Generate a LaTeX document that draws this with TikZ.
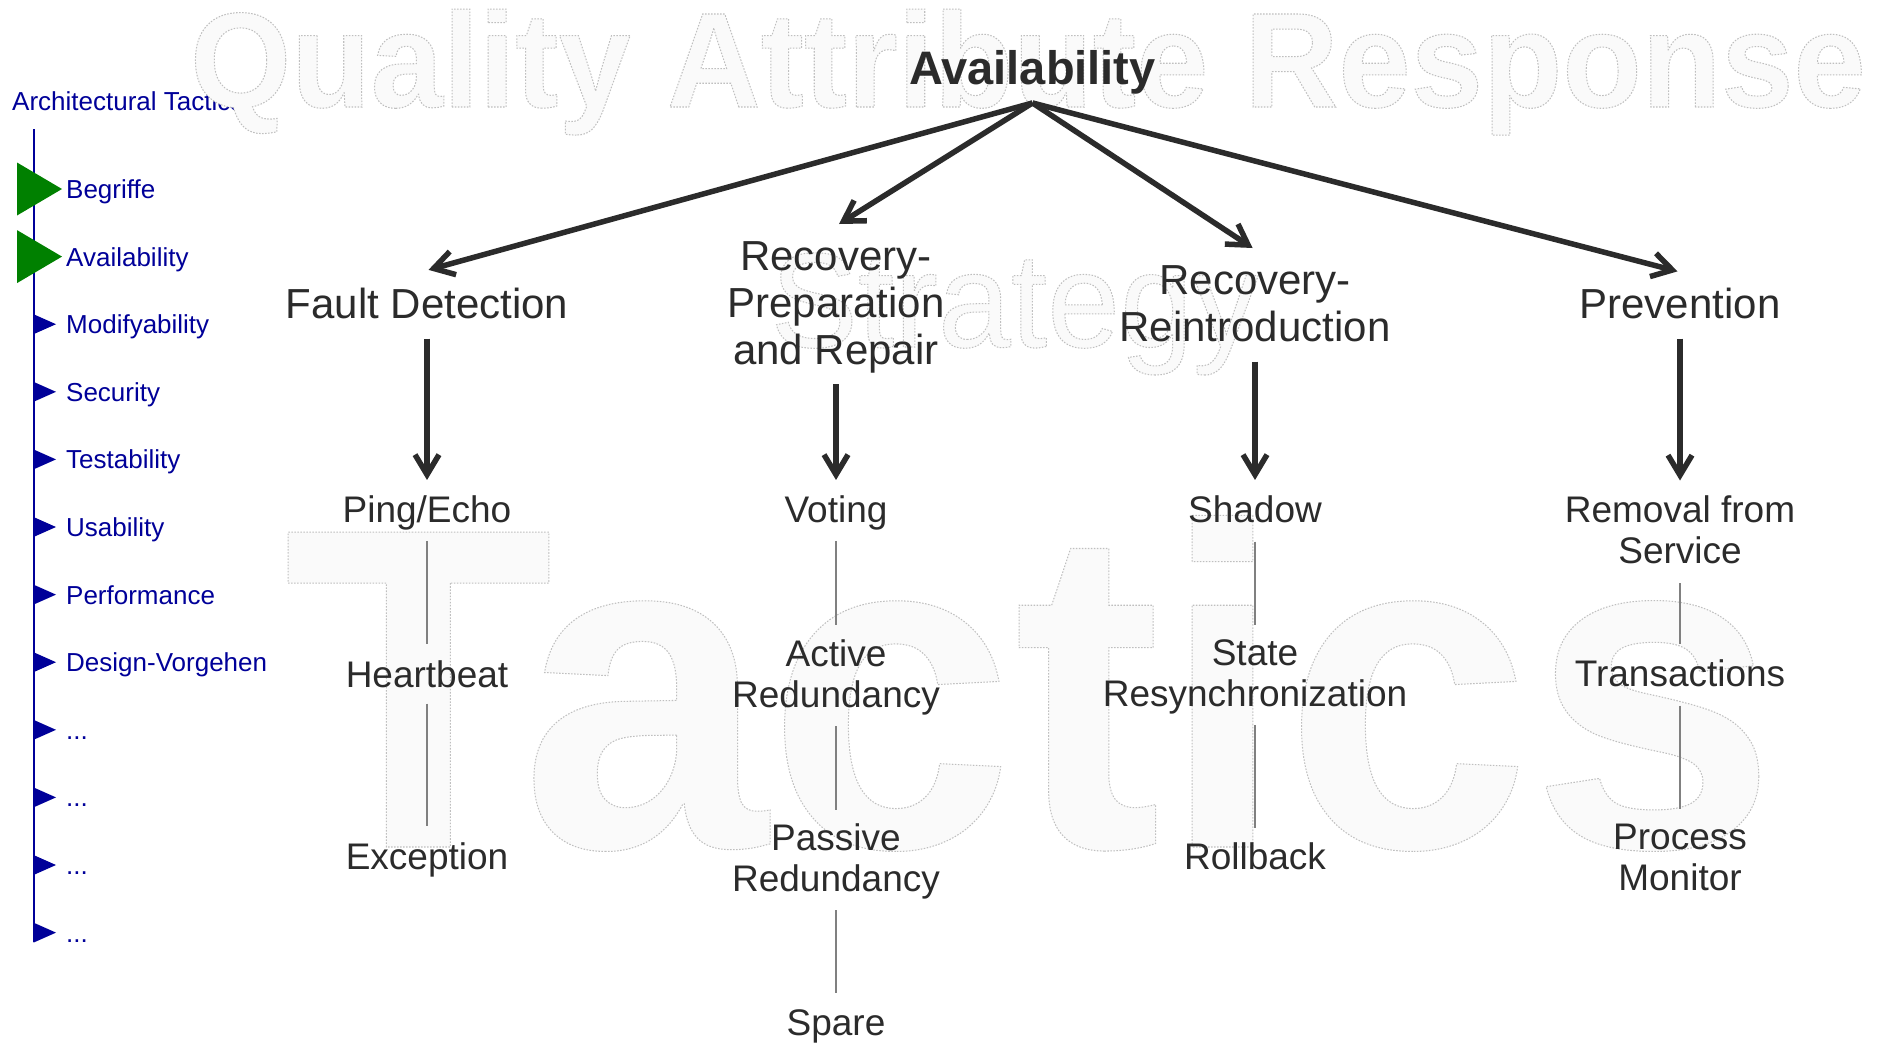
\documentclass[tikz,border=0pt]{standalone}
\usepackage{fontspec}
\setmainfont{Liberation Sans}
\usetikzlibrary{arrows.meta,calc}
\definecolor{sideblue}{HTML}{000099}
\definecolor{sidegreen}{HTML}{008000}
\definecolor{inkgray}{HTML}{2B2B2B}
\definecolor{wmfill}{HTML}{FAFAFA}
\definecolor{thingray}{HTML}{808080}
\newcommand\wmon{\special{pdf:literal direct 2 Tr 0.75 G 1 w [1.5 1.5] 0 d}}
\newcommand\wmoff{\special{pdf:literal direct 0 Tr [] 0 d 0.4 w}}
\begin{document}
\begin{tikzpicture}[x=1pt,y=-1pt,
  sidetext/.style={font=\fontsize{26}{30}\selectfont, text=sideblue, anchor=base west, inner sep=0pt},
  lvlone/.style={font=\fontsize{42}{47}\selectfont, text=inkgray, inner sep=0pt, align=center},
  lvltwo/.style={font=\fontsize{37}{41}\selectfont, text=inkgray, inner sep=0pt, align=center},
  bigarrow/.style={draw=inkgray, line width=5.5pt, -{Straight Barb[length=20pt,width=24pt]}},
  thinline/.style={draw=thingray, line width=1.2pt},
  watermark/.style={text=wmfill, inner sep=0pt, anchor=base}]
\fill[white] (0,0) rectangle (1879,1045);
\useasboundingbox (0,0) rectangle (1879,1045);

% ---------- sidebar ----------
\node[sidetext] (sidetitle) at (12,110) {Architectural Tactics};
\coordinate (stop) at (33.5,129);
\coordinate (sbot) at (33.5,942);
\draw[sideblue, line width=2pt] (stop) -- (sbot);
\foreach \i/\t in {0/Begriffe,1/Availability,2/Modifyability,3/Security,4/Testability,5/Usability,6/Performance,7/Design-Vorgehen}{
  \pgfmathsetmacro\yy{189+67.6*\i}
  \node[sidetext] (side\i) at (66,\yy+9.5) {\t};
}
\foreach \i in {8,9,10,11}{
  \pgfmathsetmacro\yy{189+67.6*\i}
  \node[sidetext] (side\i) at (66,\yy+9.5) {...};
}
\foreach \i in {0,1}{
  \pgfmathsetmacro\yy{189+67.6*\i}
  \fill[sidegreen] (17,\yy-26.5) -- (62,\yy) -- (17,\yy+26.5) -- cycle;
}
\foreach \i in {2,...,11}{
  \pgfmathsetmacro\yy{189+67.6*\i}
  \fill[sideblue] (33.5,\yy-10) -- (56,\yy) -- (33.5,\yy+10) -- cycle;
}

% ---------- watermarks ----------
\node[watermark, font=\fontsize{130}{130}\selectfont\bfseries] (wmquality) at (1028,107)
  {\scalebox{1}[1.04]{\wmon Quality Attribute Response\wmoff}};
\node[watermark, font=\fontsize{131}{131}\selectfont] (wmstrategy) at (1014.5,347)
  {\scalebox{1}[1.03]{\wmon Strategy\wmoff}};
\node[watermark, font=\fontsize{443}{443}\selectfont\bfseries] (wmtactics) at (1030,847)
  {\scalebox{1}[1.033]{\wmon Tactics\wmoff}};

% ---------- title ----------
\node[font=\fontsize{47}{52}\selectfont\bfseries, text=inkgray, inner sep=0pt, anchor=base] (avail) at (1032.5,84) {Availability};
\coordinate (apex) at ($(avail.south)+(0,9)$);

% ---------- level 1 ----------
\node[lvlone, anchor=base] (fd) at (427,318) {Fault Detection};
\node[lvlone, anchor=north] (rp) at (836,241) {Recovery-\\Preparation\\and Repair};
\node[lvlone, anchor=north] (rr) at (1255,265) {Recovery-\\Reintroduction};
\node[lvlone, anchor=base] (pv) at (1680,318) {Prevention};

\draw[bigarrow] (apex) -- ($(fd.north)+(1.5,-17.5)$);
\draw[bigarrow] (apex) -- ($(rp.north)+(3,-17)$);
\draw[bigarrow] (apex) -- ($(rr.north)+(-2.4,-17)$);
\draw[bigarrow] (apex) -- ($(pv.north)+(-2.5,-16)$);

% ---------- level 2 ----------
\node[lvltwo, anchor=base] (pe) at (427,522) {Ping/Echo};
\node[lvltwo, anchor=base] (hb) at (427,687) {Heartbeat};
\node[lvltwo, anchor=base] (ex) at (427,869) {Exception};

\node[lvltwo, anchor=base] (vo) at (836,522) {Voting};
\node[lvltwo, anchor=north] (ar) at (836,639.5) {Active\\Redundancy};
\node[lvltwo, anchor=north] (pr) at (836,823.5) {Passive\\Redundancy};
\node[lvltwo, anchor=base] (sp) at (836,1035) {Spare};

\node[lvltwo, anchor=base] (sh) at (1255,522) {Shadow};
\node[lvltwo, anchor=north] (sr) at (1255,639.5) {State\\Resynchronization};
\node[lvltwo, anchor=base] (rb) at (1255,869) {Rollback};

\node[lvltwo, anchor=north] (rs) at (1680,495.5) {Removal from\\Service};
\node[lvltwo, anchor=base] (tr) at (1680,686) {Transactions};
\node[lvltwo, anchor=north] (pm) at (1680,823.5) {Process\\Monitor};

% vertical arrows
\draw[bigarrow, shorten <=20pt, shorten >=15pt] (fd.south) -- (pe.north);
\draw[bigarrow, shorten <=11pt, shorten >=15pt] (rp.south) -- (vo.north);
\draw[bigarrow, shorten <=20pt, shorten >=15pt] (rr.south) -- (sh.north);
\draw[bigarrow, shorten <=20pt, shorten >=15pt] (pv.south) -- (rs.north);

% thin connectors
\draw[thinline, shorten <=11pt, shorten >=16pt] (pe.south) -- (hb.north);
\draw[thinline, shorten <=16pt, shorten >=16pt] (hb.south) -- (ex.north);
\draw[thinline, shorten <=11pt, shorten >=14.5pt] (vo.south) -- (ar.north);
\draw[thinline, shorten <=11pt, shorten >=13.5pt] (ar.south) -- (pr.north);
\draw[thinline, shorten <=11pt, shorten >=16pt] (pr.south) -- (sp.north);
\draw[thinline, shorten <=19pt, shorten >=14.5pt] (sh.south) -- (sr.north);
\draw[thinline, shorten <=11pt, shorten >=14.5pt] (sr.south) -- (rb.north);
\draw[thinline, shorten <=19pt, shorten >=15pt] (rs.south) -- (tr.north);
\draw[thinline, shorten <=19pt, shorten >=15pt] (tr.south) -- (pm.north);
\end{tikzpicture}
\end{document}
